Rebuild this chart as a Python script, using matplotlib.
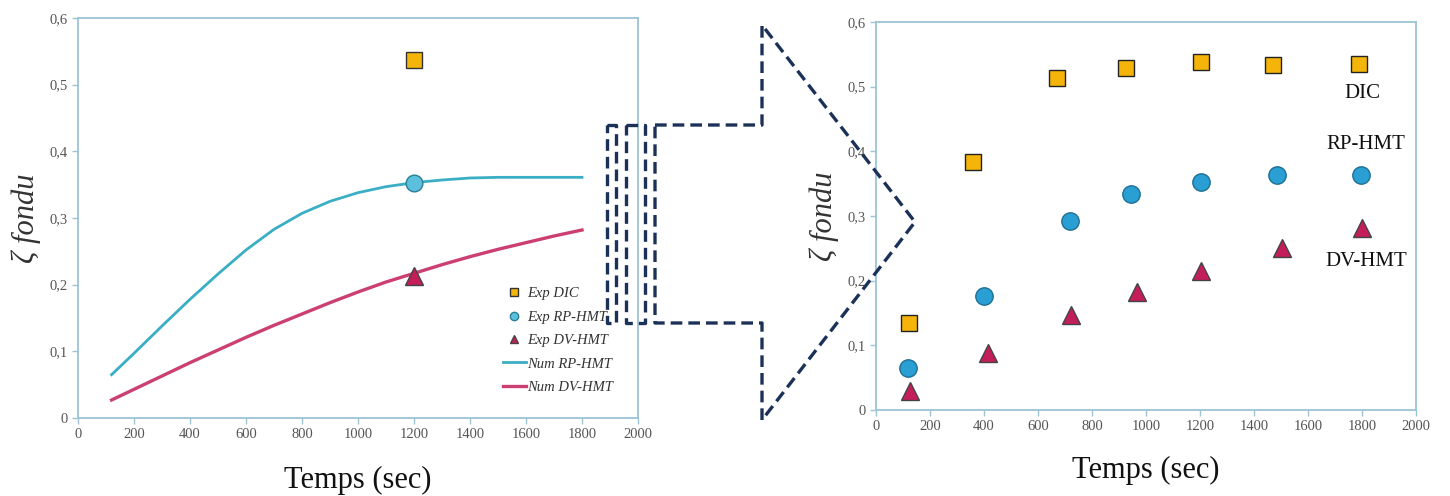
import numpy as np
import matplotlib.pyplot as plt
from matplotlib.lines import Line2D

# left chart: simulation curves + the single experimental point at 1200 s
t_num = [120, 200, 300, 400, 500, 600, 700, 800, 900, 1000, 1100, 1200, 1300, 1400, 1500, 1600, 1700, 1800]
num_rp = [0.065, 0.097, 0.138, 0.178, 0.216, 0.252, 0.283, 0.307, 0.325, 0.338, 0.347, 0.353, 0.357, 0.360, 0.361, 0.361, 0.361, 0.361]
num_dv = [0.027, 0.043, 0.063, 0.083, 0.102, 0.121, 0.139, 0.156, 0.173, 0.189, 0.204, 0.217, 0.230, 0.242, 0.253, 0.263, 0.273, 0.282]
t_single = [1200]
dic_single = [0.537]
rp_single = [0.353]
dv_single = [0.213]

# right chart: experimental kinetics
t_dic = [122, 358, 671, 925, 1202, 1471, 1788]
dic = [0.134, 0.383, 0.514, 0.529, 0.538, 0.534, 0.535]
t_rp = [119, 400, 718, 946, 1202, 1484, 1798]
rp = [0.065, 0.176, 0.292, 0.334, 0.353, 0.363, 0.363]
t_dv = [127, 416, 722, 966, 1205, 1503, 1801]
dv = [0.029, 0.088, 0.147, 0.183, 0.215, 0.251, 0.282]

xticks = list(range(0, 2001, 200))
yticks = [0, 0.1, 0.2, 0.3, 0.4, 0.5, 0.6]
yticklabels = ['0', '0,1', '0,2', '0,3', '0,4', '0,5', '0,6']

c_dic = '#f5b40a'
c_rp_line = '#3aaec4'
c_rp = '#2a9fd4'
c_dv_line = '#cc3f72'
c_dv = '#c41e5a'
spine_c = '#9cc4d6'
serif = ['Liberation Serif', 'DejaVu Serif']

fig = plt.figure(figsize=(14.5, 4.96), dpi=100)
W, H = 1450, 496
ax1 = fig.add_axes([78 / W, 1 - 418 / H, 560 / W, 400 / H])
ax2 = fig.add_axes([876 / W, 1 - 410 / H, 540 / W, 388 / H])


def style(ax, pad):
    ax.set_xlim(0, 2000)
    ax.set_ylim(0, 0.6)
    ax.set_xticks(xticks)
    ax.set_yticks(yticks)
    ax.set_yticklabels(yticklabels)
    for s in ax.spines.values():
        s.set_color(spine_c)
        s.set_linewidth(1.3)
    ax.tick_params(colors=spine_c, labelcolor='#555555', length=4, width=1)
    for lab in ax.get_xticklabels() + ax.get_yticklabels():
        lab.set_family(serif)
        lab.set_fontsize(10.5)
    ax.set_xlabel('Temps (sec)', family=serif, fontsize=22, color='#111111', labelpad=pad)
    ax.set_ylabel('ζ fondu', family=serif, style='italic', fontsize=22, color='#333333', labelpad=6)


ax1.plot(t_num, num_rp, color=c_rp_line, lw=2, zorder=2, solid_joinstyle='round')
ax1.plot(t_num, num_dv, color=c_dv_line, lw=2.4, zorder=2, solid_joinstyle='round')
ax1.plot(t_single, dic_single, 's', ms=11, mfc=c_dic, mec='#333333', mew=1, zorder=3)
ax1.plot(t_single, rp_single, 'o', ms=12, mfc='#5cc0dc', mec='#2a7f98', mew=1, zorder=3)
ax1.plot(t_single, dv_single, '^', ms=13, mfc=c_dv, mec='#444444', mew=1, zorder=3)
style(ax1, 18)

handles = [
    Line2D([], [], ls='none', marker='s', ms=6, mfc=c_dic, mec='#333333'),
    Line2D([], [], ls='none', marker='o', ms=6, mfc='#5cc0dc', mec='#2a7f98'),
    Line2D([], [], ls='none', marker='^', ms=6, mfc=c_dv, mec='#444444'),
    Line2D([], [], color=c_rp_line, lw=2),
    Line2D([], [], color=c_dv_line, lw=2.4),
]
labels = ['Exp DIC', 'Exp RP-HMT', 'Exp DV-HMT', 'Num RP-HMT', 'Num DV-HMT']
leg = ax1.legend(handles, labels, loc='upper left', bbox_to_anchor=(0.735, 0.36),
                 frameon=False, handlelength=1.6, handletextpad=0.1, labelspacing=0.7,
                 prop={'family': serif, 'style': 'italic', 'size': 10.5})
for txt in leg.get_texts():
    txt.set_color('#333333')

ax2.plot(t_dic, dic, 's', ms=12, mfc=c_dic, mec='#222222', mew=1)
ax2.plot(t_rp, rp, 'o', ms=12.5, mfc=c_rp, mec='#1f6f95', mew=1)
ax2.plot(t_dv, dv, '^', ms=13.5, mfc=c_dv, mec='#444444', mew=1)
style(ax2, 16)
for x, y, s in [(1800, 0.49, 'DIC'), (1815, 0.41, 'RP-HMT'), (1815, 0.23, 'DV-HMT')]:
    ax2.text(x, y, s, family=serif, fontsize=15, ha='center', va='center', color='#111111')

# dashed zoom arrow between the two charts (figure pixels)
navy = '#1c3158'
arrow = [(655, 125), (762, 125), (762, 25), (915, 222), (762, 420), (762, 323), (655, 323), (655, 125)]
rects = [[(607, 125), (616, 125), (616, 323), (607, 323), (607, 125)],
         [(626, 125), (645, 125), (645, 323), (626, 323), (626, 125)]]
for path in [arrow] + rects:
    xs = [p[0] / W for p in path]
    ys = [1 - p[1] / H for p in path]
    fig.add_artist(Line2D(xs, ys, transform=fig.transFigure, color=navy, lw=2.4,
                          ls=(0, (3.5, 1.8)), zorder=10))

fig.savefig('out.png', dpi=100)
